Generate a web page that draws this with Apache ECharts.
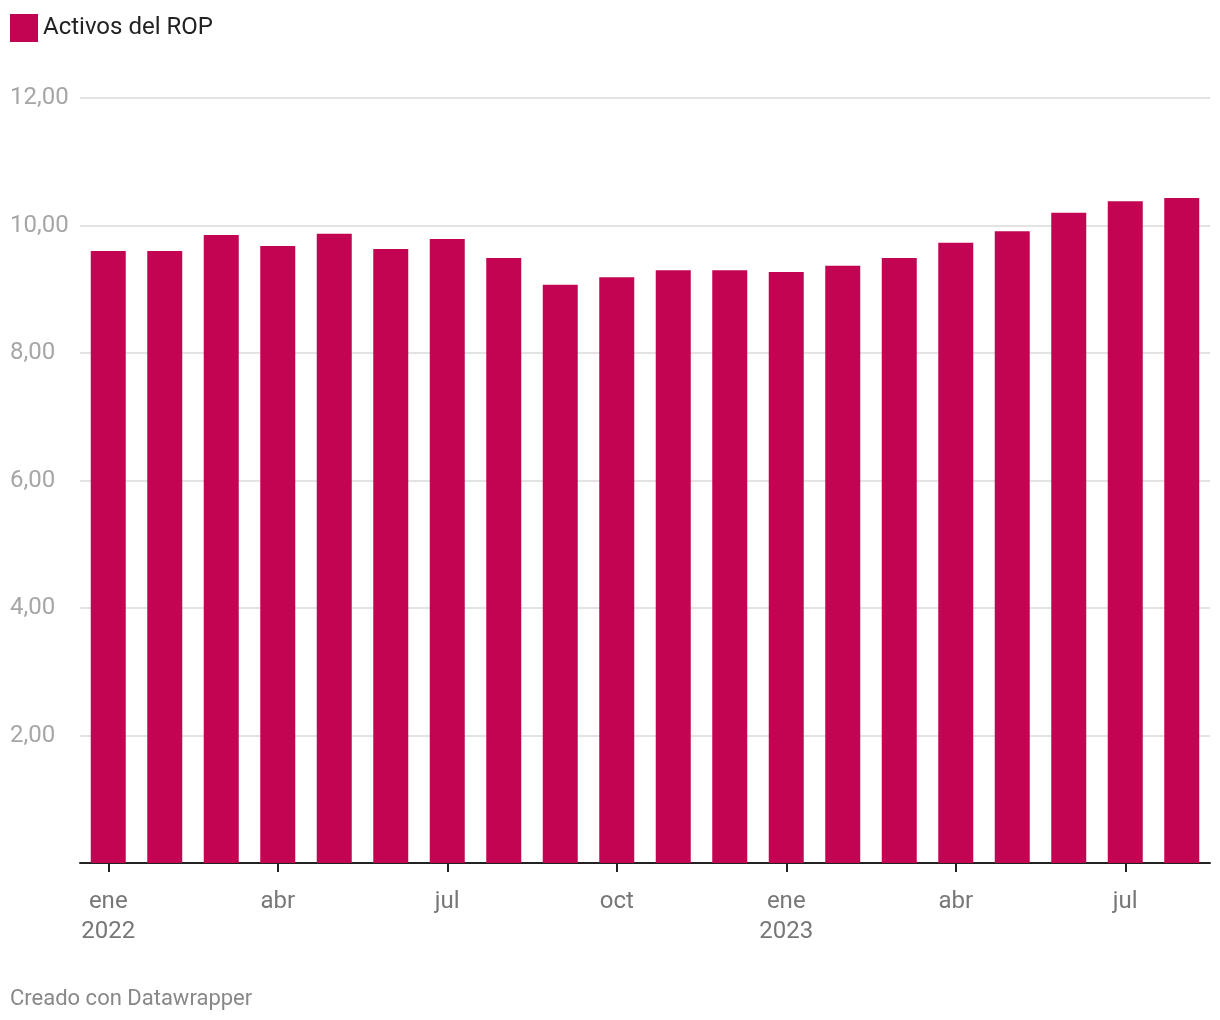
<!DOCTYPE html>
<html>
<head>
<meta charset="utf-8">
<script src="https://cdn.jsdelivr.net/npm/echarts@6/dist/echarts.min.js"></script>
<style>
html,body{margin:0;padding:0;background:#fff;}
#chart{width:1220px;height:1020px;}
</style>
</head>
<body>
<div id="chart"></div>
<script>
var months = ['ene','feb','mar','abr','may','jun','jul','ago','sep','oct','nov','dic',
              'ene','feb','mar','abr','may','jun','jul','ago'];
var years = ['2022','2022','2022','2022','2022','2022','2022','2022','2022','2022','2022','2022',
             '2023','2023','2023','2023','2023','2023','2023','2023'];
var activos = [9.60, 9.60, 9.85, 9.68, 9.87, 9.63, 9.79, 9.49, 9.07, 9.19, 9.30, 9.30,
               9.27, 9.37, 9.49, 9.73, 9.91, 10.20, 10.38, 10.43];
var seriesName = 'Activos del ROP';
var yTicks = [0, 2, 4, 6, 8, 10, 12];

var categories = months.map(function (m, i) { return m + '|' + years[i]; });

var chart = echarts.init(document.getElementById('chart'));
var showTick = function (i) { return i % 3 === 0; };
chart.setOption({
  animation: false,
  textStyle: { fontFamily: 'Roboto' },
  legend: {
    left: 10, top: 14, padding: 0,
    icon: 'rect', itemWidth: 28, itemHeight: 28,
    textStyle: { fontSize: 24, color: '#222', fontFamily: 'Roboto', padding: [3, 0, 0, 0] },
    data: [seriesName]
  },
  grid: { left: 80, right: 10, top: 98, bottom: 157, containLabel: false },
  xAxis: {
    type: 'category',
    data: categories,
    boundaryGap: true,
    axisLine: { lineStyle: { color: '#222', width: 2 } },
    axisTick: { show: true, alignWithLabel: true, interval: function (i) { return showTick(i); }, length: 9, lineStyle: { color: '#222', width: 2 } },
    axisLabel: {
      interval: function (i) { return showTick(i); },
      margin: 24,
      fontSize: 24, lineHeight: 30, color: '#777', fontFamily: 'Roboto',
      formatter: function (v) {
        var p = v.split('|');
        return p[0] === 'ene' ? p[0] + '\n' + p[1] : p[0];
      }
    }
  },
  yAxis: {
    type: 'value',
    min: yTicks[0], max: yTicks[yTicks.length - 1], interval: 2,
    axisLine: { show: false },
    axisTick: { show: false },
    splitLine: { lineStyle: { color: '#e3e3e3', width: 2 } },
    axisLabel: {
      align: 'left', margin: 70,
      fontSize: 24, color: '#a6a6a6', fontFamily: 'Roboto',
      padding: [4, 0, 0, 0],
      formatter: function (v) { return v === 0 ? '' : v.toFixed(2).replace('.', ','); }
    }
  },
  series: [{
    name: seriesName,
    type: 'bar',
    data: activos,
    barWidth: 35,
    itemStyle: { color: '#c20452' },
    z: 3
  }],
  graphic: [{
    type: 'text', left: 10, top: 988,
    style: { text: 'Creado con Datawrapper', fontSize: 22, fill: '#888', fontFamily: 'Roboto' }
  }]
});
</script>
</body>
</html>
